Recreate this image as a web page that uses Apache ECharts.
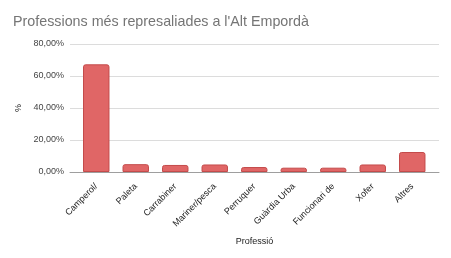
<!DOCTYPE html>
<html><head><meta charset="utf-8">
<script src="https://cdn.jsdelivr.net/npm/echarts@6/dist/echarts.min.js"></script>
<style>html,body{margin:0;padding:0;background:#fff}#c{width:451px;height:258px}</style>
</head><body><div id="c"></div>
<script>
const titleText = "Professions més represaliades a l'Alt Empordà";
const categories = ["Camperol/", "Paleta", "Carrabiner", "Mariner/pesca", "Perruquer", "Guàrdia Urba", "Funcionari de", "Xofer", "Altres"];
const values = [67.3, 4.9, 4.4, 4.7, 3.1, 2.7, 2.7, 4.7, 12.5];
const yTicks = { min: 0, max: 80, interval: 20 };
const yName = "%";
const xName = "Professió";

const chart = echarts.init(document.getElementById('c'), null, { renderer: 'canvas' });
const font = 'Liberation Sans, Arial, sans-serif';
const fmt = v => v.toFixed(2).replace('.', ',') + '%';
chart.setOption({
  animation: false,
  title: { text: titleText, left: 13, top: 15, padding: 0, textStyle: { fontFamily: font, fontSize: 14.3, fontWeight: 'normal', color: '#757575' } },
  grid: [
    { left: 70, right: 12, top: 44, bottom: 86 },
    { left: 76.5, right: 19, top: 44, bottom: 86 }
  ],
  xAxis: [
    { gridIndex: 0, type: 'value', min: 0, max: 1, show: true, axisLabel: { show: false }, axisTick: { show: false }, splitLine: { show: false },
      axisLine: { show: true, onZero: false, lineStyle: { color: '#9e9e9e', width: 1 } },
      name: xName, nameLocation: 'middle', nameGap: 65, nameTextStyle: { fontFamily: font, fontSize: 9, color: '#222' } },
    { gridIndex: 1, type: 'category', data: categories, boundaryGap: true,
      axisLine: { show: false }, axisTick: { show: false },
      axisLabel: { interval: 0, rotate: 45, margin: 13, fontFamily: font, fontSize: 9, color: '#222' } }
  ],
  yAxis: [
    { gridIndex: 0, type: 'value', min: yTicks.min, max: yTicks.max, interval: yTicks.interval,
      axisLine: { show: false }, axisTick: { show: false },
      axisLabel: { formatter: fmt, fontFamily: font, fontSize: 9, color: '#444', margin: 6 },
      splitLine: { lineStyle: { color: '#dcdcdc', width: 1 } },
      name: yName, nameLocation: 'middle', nameGap: 47, nameRotate: 90,
      nameTextStyle: { fontFamily: font, fontSize: 9, color: '#222' } },
    { gridIndex: 1, type: 'value', min: yTicks.min, max: yTicks.max, interval: yTicks.interval, show: false, splitLine: { show: false } }
  ],
  series: [{
    type: 'bar', xAxisIndex: 1, yAxisIndex: 1, data: values, barWidth: '67%',
    itemStyle: { color: '#e06666', borderColor: '#c44b4b', borderWidth: 1, borderRadius: [2, 2, 0, 0] }
  }]
});
</script></body></html>
